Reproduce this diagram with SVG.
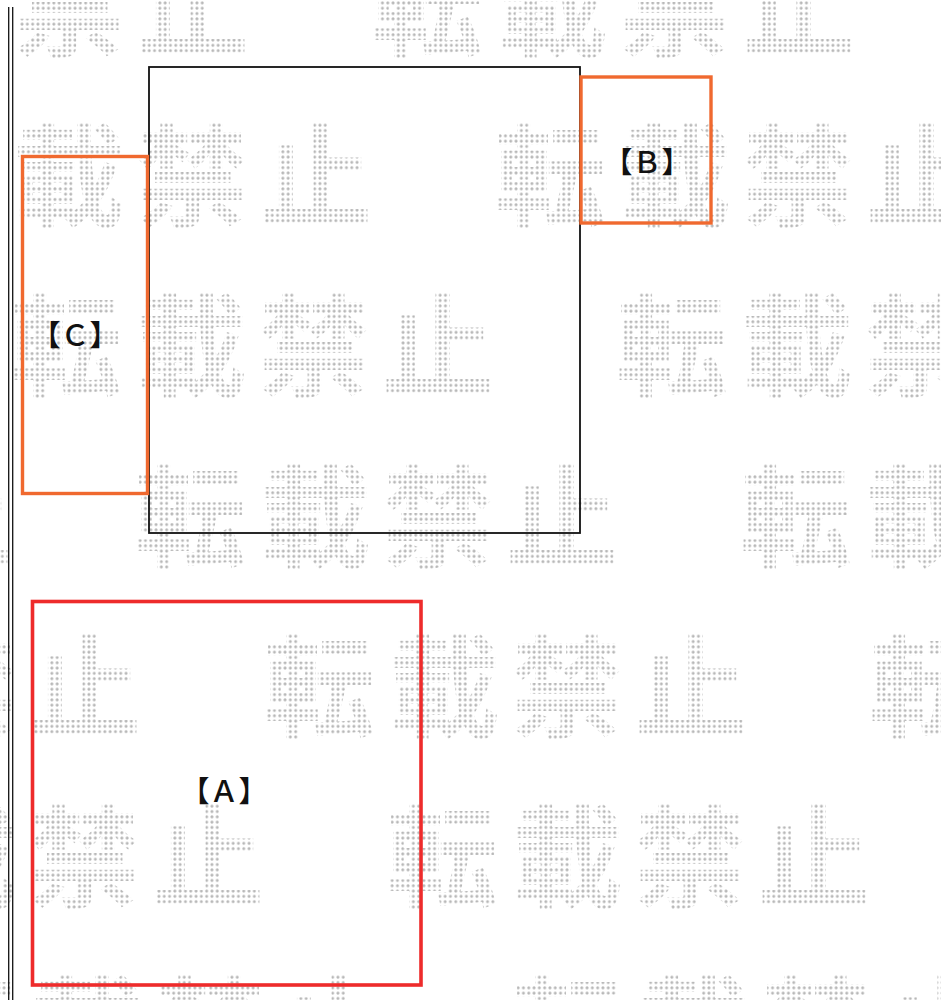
<svg xmlns="http://www.w3.org/2000/svg" xmlns:xlink="http://www.w3.org/1999/xlink" width="941" height="1000" viewBox="0 0 941 1000">
<style>
.wm{font-family:"Noto Sans CJK JP","Noto Sans CJK SC",sans-serif;font-size:112px;font-weight:700;fill:url(#dots)}
.lbl{font-family:"Noto Sans CJK JP","Noto Sans CJK SC",sans-serif;font-size:29px;font-weight:500;fill:#111;text-anchor:middle}
.frame{stroke:#111;stroke-width:1.3;fill:none}
.orange{fill:none;stroke:#f0692f;stroke-width:3.4}
.red{fill:none;stroke:#ee2b2b;stroke-width:3.6}
</style>
<defs>
<pattern id="dots" patternUnits="userSpaceOnUse" width="5.3" height="5.3">
<circle cx="2.65" cy="2.65" r="1.5" fill="#b8b8b8"/>
</pattern>
<text id="wmrow" class="wm" x="0 125 248 372 606 731 854 978 1212 1337 1460 1584" y="0">転載禁止転載禁止転載禁止</text>
</defs>
<rect width="941" height="1000" fill="#fff"/>
<g id="watermark">
<use href="#wmrow" x="-235" y="48"/>
<use href="#wmrow" x="-112" y="218"/>
<use href="#wmrow" x="-596" y="388"/>
<use href="#wmrow" x="-472" y="559"/>
<use href="#wmrow" x="-343" y="729"/>
<use href="#wmrow" x="-220" y="899"/>
<use href="#wmrow" x="-94" y="1070"/>
</g>
<g id="frame">
<line class="frame" x1="8.7" y1="7" x2="8.7" y2="1000"/>
<line class="frame" x1="12.7" y1="7" x2="12.7" y2="1000"/>
</g>
<g id="connectors"/>
<g id="node-main">
<rect x="149" y="67" width="431" height="466" fill="none" stroke="#111" stroke-width="1.8"/>
</g>
<g id="node-B">
<rect class="orange" x="581" y="77" width="130" height="146"/>
<text class="lbl" x="647" y="173">【Ｂ】</text>
</g>
<g id="node-C">
<rect class="orange" x="22.5" y="156.5" width="125" height="337"/>
<text class="lbl" x="75" y="346">【Ｃ】</text>
</g>
<g id="node-A">
<rect class="red" x="32.5" y="601.5" width="388.5" height="383.5"/>
<text class="lbl" x="224" y="802">【Ａ】</text>
</g>
</svg>
